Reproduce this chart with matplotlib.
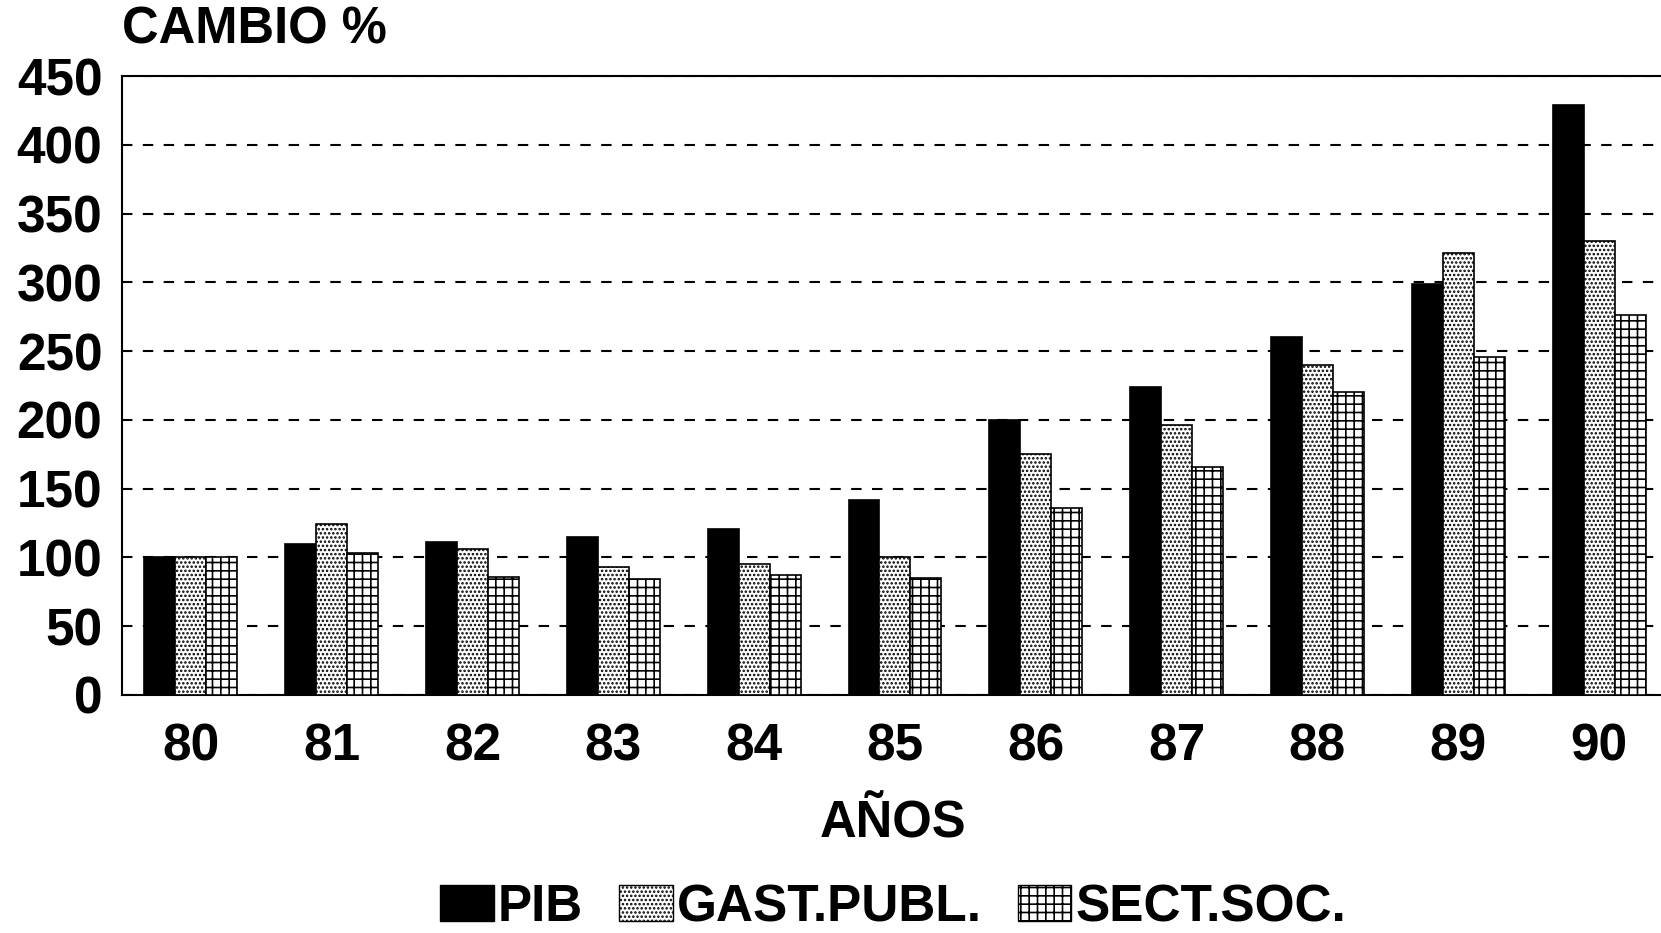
import matplotlib
matplotlib.use("Agg")
import matplotlib.pyplot as plt
import numpy as np
from matplotlib.patches import Patch

years = ["80", "81", "82", "83", "84", "85", "86", "87", "88", "89", "90"]
pib = [100, 110, 111, 115, 121, 142, 200, 224, 260, 299, 429]
gast_publ = [100, 124, 106, 93, 95, 100, 175, 196, 240, 321, 330]
sect_soc = [100, 103, 86, 84, 87, 85, 136, 166, 220, 246, 276]
series_names = ["PIB", "GAST.PUBL.", "SECT.SOC."]
yticks = [0, 50, 100, 150, 200, 250, 300, 350, 400, 450]

plt.rcParams['font.family'] = ['Liberation Sans', 'DejaVu Sans']
plt.rcParams['font.weight'] = 'bold'
plt.rcParams['hatch.linewidth'] = 1.2

fig = plt.figure(figsize=(16.61, 9.33), dpi=100)
ax = fig.add_axes([0.0734, 0.2551, 1 - 0.0734, 0.9185 - 0.2551])

x = np.arange(len(years))
w = 0.22
ax.bar(x - w, pib, w, color='black', edgecolor='black', linewidth=1.2, zorder=3)
ax.bar(x, gast_publ, w, color='white', edgecolor='black', hatch='....', linewidth=1.2, zorder=3)
ax.bar(x + w, sect_soc, w, color='white', edgecolor='black', hatch='++', linewidth=1.2, zorder=3)

ax.set_ylim(0, 450)
ax.set_xlim(-0.49, 10.44)
ax.set_yticks(yticks)
ax.set_xticks(x)
ax.set_xticklabels(years)
ax.tick_params(axis='both', length=0, labelsize=37)
ax.tick_params(axis='y', pad=14)
ax.tick_params(axis='x', pad=20)
for lab in ax.get_xticklabels() + ax.get_yticklabels():
    lab.set_fontweight('bold')

ax.yaxis.grid(True, linestyle=(0, (5, 5)), color='black', linewidth=1.5, zorder=0)
ax.set_axisbelow(True)
for s in ['top', 'left', 'bottom']:
    ax.spines[s].set_linewidth(1.5)
ax.spines['right'].set_visible(False)

fig.text(0.0734, 0.968, "CAMBIO %", fontsize=36.5, fontweight='bold', ha='left', va='center')
fig.text(0.5377, 0.117, "AÑOS", fontsize=36.5, fontweight='bold', ha='center', va='center')

handles = [Patch(facecolor='black', edgecolor='black'),
           Patch(facecolor='white', edgecolor='black', hatch='....'),
           Patch(facecolor='white', edgecolor='black', hatch='++')]
fig.legend(handles, series_names, loc='center', bbox_to_anchor=(0.5377, 0.027), ncol=3,
           frameon=False, prop={'size': 37, 'weight': 'bold'}, handlelength=1.04,
           handleheight=0.69, handletextpad=0.08, columnspacing=0.7, borderpad=0)

fig.savefig("out.png", dpi=100)
